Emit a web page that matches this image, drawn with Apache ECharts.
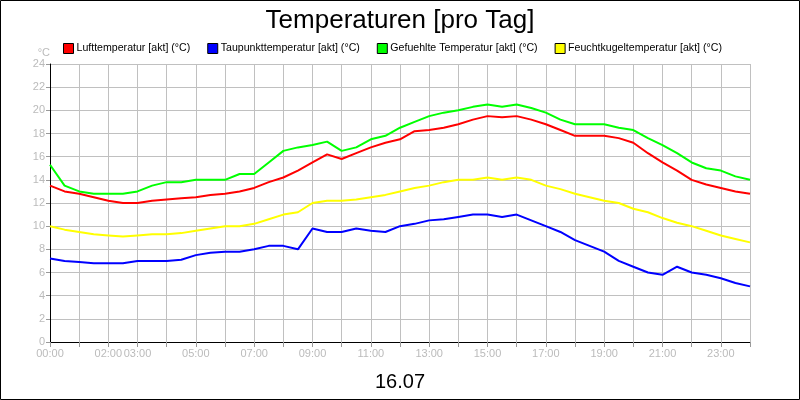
<!DOCTYPE html>
<html><head><meta charset="utf-8">
<script src="https://cdn.jsdelivr.net/npm/echarts@6/dist/echarts.min.js"></script>
<style>html,body{margin:0;padding:0;background:#fff}#c{width:800px;height:400px}</style>
</head><body><div id="c"></div>
<script>
const hours = Array.from({length:49},(_,i)=>i*0.5);
const shownLabels = [0,2,3,5,7,9,11,13,15,17,19,21,23];
const luft = [13.5,13.0,12.8,12.5,12.2,12.0,12.0,12.2,12.3,12.4,12.5,12.7,12.8,13.0,13.3,13.8,14.2,14.8,15.5,16.2,15.8,16.3,16.8,17.2,17.5,18.2,18.3,18.5,18.8,19.2,19.5,19.4,19.5,19.2,18.8,18.3,17.8,17.8,17.8,17.6,17.2,16.3,15.5,14.8,14.0,13.6,13.3,13.0,12.8];
const tau = [7.2,7.0,6.9,6.8,6.8,6.8,7.0,7.0,7.0,7.1,7.5,7.7,7.8,7.8,8.0,8.3,8.3,8.0,9.8,9.5,9.5,9.8,9.6,9.5,10.0,10.2,10.5,10.6,10.8,11.0,11.0,10.8,11.0,10.5,10.0,9.5,8.8,8.3,7.8,7.0,6.5,6.0,5.8,6.5,6.0,5.8,5.5,5.1,4.8];
const gef = [15.3,13.5,13.0,12.8,12.8,12.8,13.0,13.5,13.8,13.8,14.0,14.0,14.0,14.5,14.5,15.5,16.5,16.8,17.0,17.3,16.5,16.8,17.5,17.8,18.5,19.0,19.5,19.8,20.0,20.3,20.5,20.3,20.5,20.2,19.8,19.2,18.8,18.8,18.8,18.5,18.3,17.6,17.0,16.3,15.5,15.0,14.8,14.3,14.0];
const feucht = [10.0,9.7,9.5,9.3,9.2,9.1,9.2,9.3,9.3,9.4,9.6,9.8,10.0,10.0,10.2,10.6,11.0,11.2,12.0,12.2,12.2,12.3,12.5,12.7,13.0,13.3,13.5,13.8,14.0,14.0,14.2,14.0,14.2,14.0,13.5,13.2,12.8,12.5,12.2,12.0,11.5,11.2,10.7,10.3,10.0,9.6,9.2,8.9,8.6];
const names = ['Lufttemperatur [akt] (°C)','Taupunkttemperatur [akt] (°C)','Gefuehlte Temperatur [akt] (°C)','Feuchtkugeltemperatur [akt] (°C)'];
const colors = ['#ff0000','#0000ff','#00ff00','#ffff00'];
const sets = [luft,tau,gef,feucht];
const F = 'Liberation Sans, Arial, sans-serif';
const chart = echarts.init(document.getElementById('c'));
chart.setOption({
  animation:false,
  title:{text:'Temperaturen [pro Tag]',left:'center',top:3,textStyle:{fontFamily:F,fontSize:26,fontWeight:'normal',color:'#000'}},
  legend:{left:58,top:38,itemWidth:10,itemHeight:10,itemGap:17,icon:'rect',
    textStyle:{fontFamily:F,fontSize:10.6,color:'#000',padding:[0,0,0,-2]},
    data:names.map((n,i)=>({name:n,itemStyle:{color:colors[i],borderColor:'#000',borderWidth:1}}))},
  graphic:[{type:'rect',shape:{x:0.5,y:0.5,width:799,height:399},style:{fill:'none',stroke:'#000',lineWidth:1}}],
  grid:{left:50,right:50,top:64,bottom:58},
  xAxis:{type:'value',min:0,max:24,interval:1,name:'16.07',nameLocation:'middle',nameGap:30,
    nameTextStyle:{fontFamily:F,fontSize:20,color:'#000'},
    axisLine:{lineStyle:{color:'#000'}},axisTick:{length:5,lineStyle:{color:'#999'}},
    axisLabel:{fontFamily:F,fontSize:11,color:'#bbb',margin:6,
      formatter:v=>shownLabels.includes(v)?String(v).padStart(2,'0')+':00':''},
    splitLine:{lineStyle:{color:'#c0c0c0'}}},
  yAxis:{type:'value',min:0,max:24,interval:2,name:'°C',nameGap:6,
    nameTextStyle:{fontFamily:F,fontSize:11,color:'#bbb',align:'right'},
    axisLine:{show:true,lineStyle:{color:'#000'}},axisTick:{show:true,length:4,lineStyle:{color:'#999'}},
    axisLabel:{fontFamily:F,fontSize:11,color:'#bbb',margin:5},
    splitLine:{lineStyle:{color:'#c0c0c0'}}},
  series:sets.map((d,i)=>({name:names[i],type:'line',showSymbol:false,smooth:false,
    lineStyle:{color:colors[i],width:2},itemStyle:{color:colors[i]},
    data:hours.map((h,j)=>[h,d[j]])}))
});
</script></body></html>
